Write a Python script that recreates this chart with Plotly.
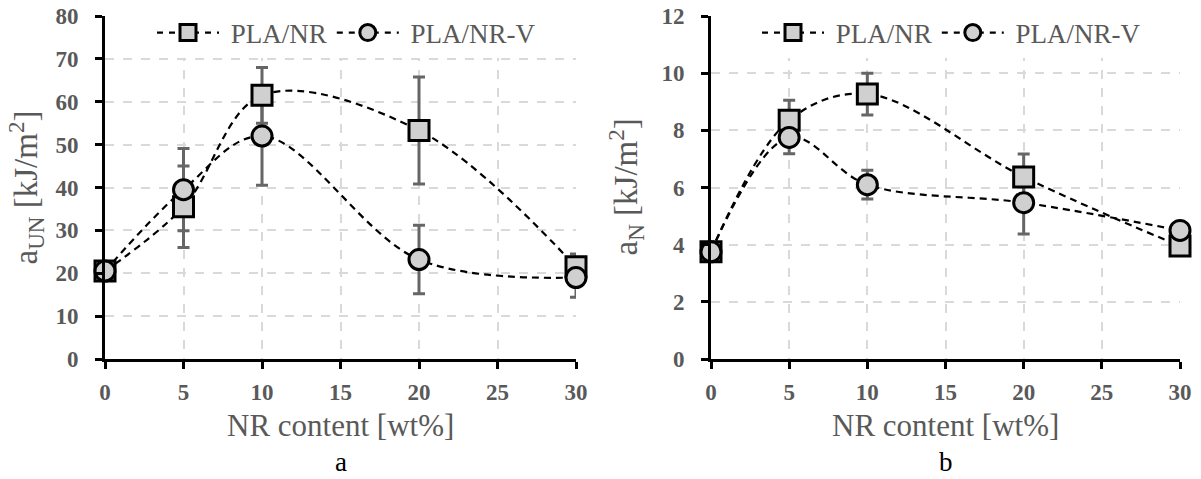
import plotly.graph_objects as go

# ---- data ----
nr_content = [0, 5, 10, 20, 30]

# panel a: unnotched impact strength a_UN [kJ/m2]
a_un_pla_nr = [20.5, 35.5, 61.5, 53.3, 21.5]
a_un_pla_nr_err = [0.0, 9.5, 6.5, 12.5, 3.0]
a_un_pla_nr_v = [20.5, 39.5, 52.0, 23.2, 19.0]
a_un_pla_nr_v_err = [0.0, 9.6, 11.5, 8.0, 4.6]

# panel b: notched impact strength a_N [kJ/m2]
a_n_pla_nr = [3.75, 8.35, 9.27, 6.37, 3.95]
a_n_pla_nr_err = [0.0, 0.7, 0.73, 0.8, 0.0]
a_n_pla_nr_v = [3.75, 7.75, 6.1, 5.47, 4.5]
a_n_pla_nr_v_err = [0.0, 0.57, 0.5, 1.1, 0.0]

series_names = ["PLA/NR", "PLA/NR-V"]
x_ticks = [0, 5, 10, 15, 20, 25, 30]
y_ticks_a = [0, 10, 20, 30, 40, 50, 60, 70, 80]
y_ticks_b = [0, 2, 4, 6, 8, 10, 12]

# ---- style ----
SERIF = "Liberation Serif"
GRAY_TXT = "#595959"
MARKER_FILL = "#d0d0d0"
ERR_COL = "#666666"
DASH = "7px,5px"

fig = go.Figure()

def add_panel(xa, ya, legend, ys, errs, symbols):
    # error bars first (under everything)
    for y, e in zip(ys, errs):
        fig.add_trace(go.Scatter(
            x=nr_content, y=y, mode="lines", line=dict(width=0, color="rgba(0,0,0,0)"),
            error_y=dict(type="data", array=e, visible=True, color=ERR_COL,
                         thickness=3, width=6),
            xaxis=xa, yaxis=ya, showlegend=False, hoverinfo="skip", cliponaxis=False))
    # dashed smooth lines
    for y in ys:
        fig.add_trace(go.Scatter(
            x=nr_content, y=y, mode="lines",
            line=dict(color="black", width=2.2, dash=DASH, shape="spline", smoothing=1.0),
            xaxis=xa, yaxis=ya, showlegend=False, hoverinfo="skip", cliponaxis=False))
    # markers
    for y, sym in zip(ys, symbols):
        fig.add_trace(go.Scatter(
            x=nr_content, y=y, mode="markers",
            marker=dict(symbol=sym, size=20, color=MARKER_FILL,
                        line=dict(color="black", width=3)),
            xaxis=xa, yaxis=ya, showlegend=False, cliponaxis=False))
    # legend entries
    for name, sym in zip(series_names, symbols):
        fig.add_trace(go.Scatter(
            x=[None], y=[None], mode="lines+markers", name="\u00a0" + name,
            line=dict(color="black", width=2.2, dash="6px,6px"),
            marker=dict(symbol=sym, size=18, color=MARKER_FILL,
                        line=dict(color="black", width=3)),
            xaxis=xa, yaxis=ya, legend=legend, showlegend=True))

add_panel("x", "y", "legend", [a_un_pla_nr, a_un_pla_nr_v],
          [a_un_pla_nr_err, a_un_pla_nr_v_err], ["square", "circle"])
add_panel("x2", "y2", "legend2", [a_n_pla_nr, a_n_pla_nr_v],
          [a_n_pla_nr_err, a_n_pla_nr_v_err], ["square", "circle"])

W, H = 1201, 479
top_px, bot_px = 16, 359
ydom = [1 - bot_px / H, 1 - top_px / H]
xdom1 = [105 / W, 576 / W]
xdom2 = [711 / W, 1180 / W]

tickfont = dict(family=SERIF, size=23, color=GRAY_TXT, weight="bold")
common_x = dict(range=[0, 30], tickvals=x_ticks, showgrid=True, gridcolor="#d9d9d9",
                griddash="dash", gridwidth=1.5, zeroline=False, showline=True,
                linecolor="black", linewidth=3, ticks="outside", ticklen=7,
                tickwidth=3, tickcolor="black", tickfont=tickfont,
                ticklabelstandoff=3, automargin=False)
common_y = dict(showgrid=True, gridcolor="#d9d9d9", griddash="dash", gridwidth=1.5,
                zeroline=False, showline=True, linecolor="black", linewidth=3,
                ticks="outside", ticklen=7, tickwidth=3, tickcolor="black",
                tickfont=tickfont, ticklabelstandoff=12, automargin=False)

leg_font = dict(family=SERIF, size=27, color=GRAY_TXT)
fig.update_layout(
    width=W, height=H,
    margin=dict(l=0, r=0, t=0, b=0, autoexpand=False),
    paper_bgcolor="white", plot_bgcolor="white",
    xaxis=dict(domain=xdom1, anchor="y", **common_x),
    yaxis=dict(domain=ydom, anchor="x", range=[0, 80], tickvals=y_ticks_a, **common_y),
    xaxis2=dict(domain=xdom2, anchor="y2", **common_x),
    yaxis2=dict(domain=ydom, anchor="x2", range=[0, 12], tickvals=y_ticks_b, **common_y),
    legend=dict(orientation="h", x=(xdom1[0] + xdom1[1]) / 2 + 0.005, y=1 - 33 / H,
                xanchor="center", yanchor="middle", bgcolor="white",
                font=leg_font, itemwidth=62, tracegroupgap=0),
    legend2=dict(orientation="h", x=(xdom2[0] + xdom2[1]) / 2 + 0.005, y=1 - 33 / H,
                 xanchor="center", yanchor="middle", bgcolor="white",
                 font=leg_font, itemwidth=62, tracegroupgap=0),
    showlegend=True,
)

title_font = dict(family=SERIF, size=31, color=GRAY_TXT)
ytitle_font = dict(family=SERIF, size=33, color=GRAY_TXT)
ymid = 1 - (top_px + bot_px) / 2 / H
annotations = [
    dict(text="NR content [wt%]", x=sum(xdom1) / 2, y=1 - 425 / H, xref="paper", yref="paper",
         showarrow=False, font=title_font, xanchor="center", yanchor="middle"),
    dict(text="NR content [wt%]", x=sum(xdom2) / 2, y=1 - 425 / H, xref="paper", yref="paper",
         showarrow=False, font=title_font, xanchor="center", yanchor="middle"),
    dict(text="a<sub>UN</sub> [kJ/m<sup>2</sup>]", x=26 / W, y=ymid, xref="paper", yref="paper",
         showarrow=False, font=ytitle_font, textangle=-90, xanchor="center", yanchor="middle"),
    dict(text="a<sub>N</sub> [kJ/m<sup>2</sup>]", x=626 / W, y=ymid, xref="paper", yref="paper",
         showarrow=False, font=ytitle_font, textangle=-90, xanchor="center", yanchor="middle"),
    dict(text="a", x=sum(xdom1) / 2, y=1 - 462 / H, xref="paper", yref="paper",
         showarrow=False, font=dict(family=SERIF, size=27, color="black"),
         xanchor="center", yanchor="middle"),
    dict(text="b", x=sum(xdom2) / 2, y=1 - 462 / H, xref="paper", yref="paper",
         showarrow=False, font=dict(family=SERIF, size=27, color="black"),
         xanchor="center", yanchor="middle"),
]
fig.update_layout(annotations=annotations)

fig.write_html("out.html", config={"displayModeBar": False},
               post_script="document.body.style.margin='0px';document.body.style.overflow='hidden';")
